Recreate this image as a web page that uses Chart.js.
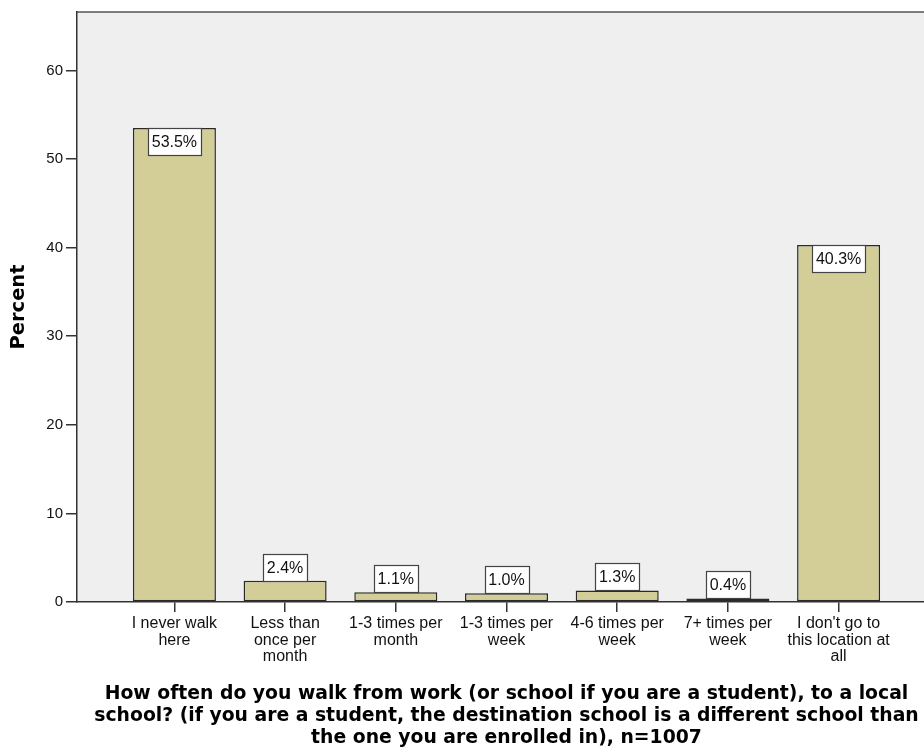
<!DOCTYPE html>
<html>
<head>
<meta charset="utf-8">
<title>Walk frequency</title>
<script src="https://cdn.jsdelivr.net/npm/chart.js@4.4.0/dist/chart.umd.min.js"></script>
<style>
  html, body { margin: 0; padding: 0; background: #fff; overflow: hidden; }
  #wrap { width: 924px; height: 752px; overflow: hidden; }
</style>
</head>
<body>
<div id="wrap"><canvas id="barChart" width="940" height="752"></canvas></div>
<script>
const categories = [
    ["I never walk", "here"],
    ["Less than", "once per", "month"],
    ["1-3 times per", "month"],
    ["1-3 times per", "week"],
    ["4-6 times per", "week"],
    ["7+ times per", "week"],
    ["I don't go to", "this location at", "all"]
];
const percents = [53.5, 2.4, 1.1, 1.0, 1.3, 0.4, 40.3];
const yTicks = [0, 10, 20, 30, 40, 50, 60];
const xTitle = [
    "How often do you walk from work (or school if you are a student), to a local",
    "school? (if you are a student, the destination school is a different school than",
    "the one you are enrolled in), n=1007"
];

const plotBg = {
    id: "plotBg",
    beforeDraw(chart) {
        const { ctx, chartArea: a } = chart;
        ctx.save();
        ctx.fillStyle = "#efefef";
        ctx.fillRect(a.left, a.top, a.right - a.left, a.bottom - a.top);
        ctx.strokeStyle = "#555";
        ctx.lineWidth = 1.5;
        ctx.beginPath();
        ctx.moveTo(a.left, a.top);
        ctx.lineTo(chart.width, a.top);
        ctx.stroke();
        ctx.restore();
    }
};

const barLabels = {
    id: "barLabels",
    afterDatasetsDraw(chart) {
        const { ctx } = chart;
        const meta = chart.getDatasetMeta(0);
        ctx.save();
        ctx.font = "16px 'Liberation Sans', Arial, sans-serif";
        ctx.textAlign = "center";
        ctx.textBaseline = "middle";
        meta.data.forEach((bar, i) => {
            const txt = percents[i].toFixed(1) + "%";
            const w = Math.round(ctx.measureText(txt).width + 8);
            const h = 27;
            const barH = bar.base - bar.y;
            const top = Math.round(barH > h + 4 ? bar.y : bar.y - h) + 0.5;
            const left = Math.round(bar.x - w / 2) + 0.5;
            ctx.fillStyle = "#fff";
            ctx.fillRect(left, top, w, h);
            ctx.strokeStyle = "#444";
            ctx.lineWidth = 1.2;
            ctx.strokeRect(left, top, w, h);
            ctx.fillStyle = "#111";
            ctx.fillText(txt, bar.x, top + h / 2 + 1);
        });
        ctx.restore();
    }
};

const ctx = document.getElementById("barChart").getContext("2d");
new Chart(ctx, {
    type: "bar",
    data: {
        datasets: [{
            data: percents.map((v, i) => ({ x: i, y: v })),
            backgroundColor: "#d3ce97",
            borderColor: "#2a2a2a",
            borderWidth: 1.5,
            borderSkipped: false,
            categoryPercentage: 0.75,
            barPercentage: 1.0
        }]
    },
    plugins: [plotBg, barLabels],
    options: {
        responsive: false,
        animation: false,
        layout: { padding: { top: 10, right: 4, left: 0, bottom: 0 } },
        plugins: {
            legend: { display: false },
            tooltip: { enabled: false }
        },
        scales: {
            x: {
                type: "linear",
                offset: false,
                min: -0.88,
                max: 6.88,
                afterBuildTicks: scale => { scale.ticks = categories.map((c, i) => ({ value: i })); },
                afterFit: scale => { scale.height = 150; },
                grid: { offset: false, drawOnChartArea: false, drawTicks: true, tickLength: 10, color: "#333", lineWidth: 1.5 },
                border: { display: true, color: "#333", width: 1.5 },
                ticks: {
                    autoSkip: false,
                    maxRotation: 0,
                    padding: 3,
                    color: "#111",
                    font: { family: "'Liberation Sans', Arial, sans-serif", size: 16, lineHeight: 1.05 },
                    callback: value => categories[value]
                },
                title: {
                    display: true,
                    text: xTitle,
                    color: "#000",
                    padding: { top: 0, bottom: 3 },
                    font: { family: "'DejaVu Sans', sans-serif", size: 18.8, weight: "bold", lineHeight: 1.17 }
                }
            },
            y: {
                min: 0,
                max: 66.6,
                afterBuildTicks: scale => { scale.ticks = yTicks.map(v => ({ value: v })); },
                afterFit: scale => { scale.width = 77; },
                grid: { drawOnChartArea: false, drawTicks: true, tickLength: 11, color: "#333", lineWidth: 1.5 },
                border: { display: true, color: "#333", width: 1.5 },
                ticks: {
                    padding: 3,
                    color: "#111",
                    font: { family: "'Liberation Sans', Arial, sans-serif", size: 15 }
                },
                title: {
                    display: true,
                    text: "Percent",
                    color: "#000",
                    padding: { top: 7, bottom: 0 },
                    font: { family: "'DejaVu Sans', sans-serif", size: 19.5, weight: "bold" }
                }
            }
        }
    }
});
</script>
</body>
</html>
